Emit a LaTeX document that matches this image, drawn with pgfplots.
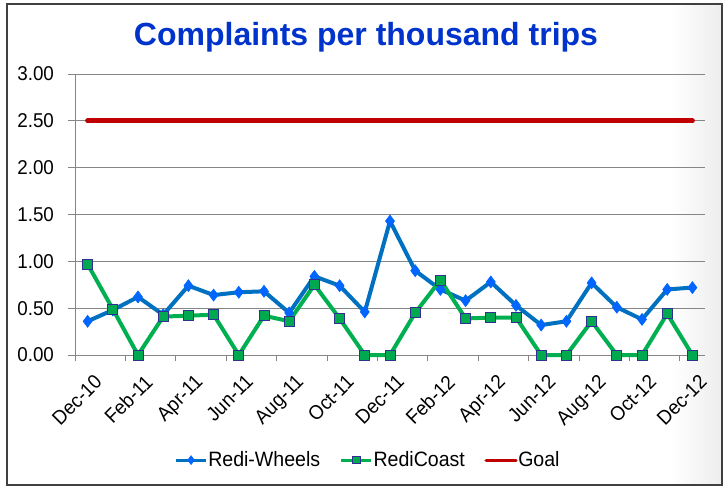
\documentclass[border=0pt]{standalone}
\usepackage{fontspec}
\setmainfont{Liberation Sans}
\newfontfamily\narrowfont[FakeStretch=0.94]{Liberation Sans}
\usepackage{pgfplots}
\pgfplotsset{compat=1.18}
\definecolor{ttl}{RGB}{0,51,204}
\definecolor{bline}{RGB}{0,112,192}
\definecolor{bmark}{RGB}{0,102,255}
\definecolor{gline}{RGB}{0,176,80}
\definecolor{gmark}{RGB}{0,168,80}
\definecolor{gedge}{RGB}{46,49,146}
\definecolor{goal}{RGB}{192,0,0}
\definecolor{gridc}{RGB}{134,134,134}
\begin{document}
\begin{tikzpicture}
\useasboundingbox (0,0) rectangle (363pt,-243.5pt);
\fill[white] (0,0) rectangle (363pt,-243.5pt);
\shade[left color=white, right color=black!7] (335pt,-2pt) rectangle (361pt,-242.5pt);
\draw[black!75, line width=0.8pt] (3.5pt,-2pt) rectangle (361pt,-242.5pt);
\node[anchor=base, text=ttl, font=\bfseries\fontsize{16}{19}\selectfont] at (183pt,-22.5pt) {Complaints per thousand trips};
\begin{axis}[
  at={(37.5pt,-177.5pt)}, anchor=south west,
  scale only axis, width=315pt, height=140.5pt,
  clip=false,
  xmin=-0.5, xmax=24.5, ymin=0, ymax=3,
  axis x line*=bottom, axis y line*=left,
  axis line style={gridc, line width=0.5pt},
  xtick={0,2,...,24},
  xticklabels={Dec-10,Feb-11,Apr-11,Jun-11,Aug-11,Oct-11,Dec-11,Feb-12,Apr-12,Jun-12,Aug-12,Oct-12,Dec-12},
  major x tick style={draw=none},
  minor xtick={-0.5,1.5,...,23.5},
  minor x tick style={gridc, line width=0.5pt},
  minor tick length=3pt,
  ytick={0,0.5,...,3},
  major y tick style={gridc, line width=0.5pt},
  major tick length=3.5pt,
  tick align=outside,
  ymajorgrids,
  grid style={gridc, line width=0.5pt},
  /pgf/number format/.cd, fixed, fixed zerofill, precision=2, assume math mode=true,
  /pgfplots/.cd,
  yticklabel style={font=\narrowfont\fontsize{10}{12}\selectfont, xshift=-3.5pt},
  xticklabel style={font=\narrowfont\fontsize{10}{12}\selectfont, rotate=45, anchor=north east, xshift=1.5pt, yshift=-2.5pt},
  legend columns=3,
  legend style={at={(0.464,-0.374)}, anchor=center, draw=none, fill=none,
    font=\narrowfont\fontsize{10.4}{12}\selectfont, column sep=0pt, inner sep=1pt,
    nodes={inner xsep=0.3pt, inner ysep=1pt},
    /tikz/every even column/.style={column sep=9.5pt}},
  legend cell align=left,
]
\addplot[bline, line width=2pt, mark=diamond*, mark size=3pt, mark options={fill=bmark, draw=bmark, line width=0.3pt},
  legend image code/.code={\draw[mark repeat=2, mark phase=2, line width=1.6pt, mark size=2.2pt] plot coordinates {(0pt,0pt)(7.5pt,0pt)(15pt,0pt)};}]
coordinates {(0,0.36)(1,0.48)(2,0.62)(3,0.43)(4,0.74)(5,0.64)(6,0.67)(7,0.68)(8,0.45)(9,0.84)(10,0.74)(11,0.46)(12,1.43)(13,0.90)(14,0.70)(15,0.58)(16,0.78)(17,0.53)(18,0.32)(19,0.36)(20,0.77)(21,0.51)(22,0.38)(23,0.70)(24,0.72)};
\addlegendentry{Redi-Wheels}
\addplot[gline, line width=2pt, mark=square*, mark size=2.5pt, mark options={fill=gmark, draw=gedge, line width=0.5pt},
  legend image code/.code={\draw[mark repeat=2, mark phase=2, line width=1.6pt, mark size=1.9pt] plot coordinates {(0pt,0pt)(7.5pt,0pt)(15pt,0pt)};}]
coordinates {(0,0.97)(1,0.49)(2,0)(3,0.41)(4,0.42)(5,0.43)(6,0)(7,0.42)(8,0.36)(9,0.75)(10,0.39)(11,0)(12,0)(13,0.45)(14,0.80)(15,0.39)(16,0.40)(17,0.40)(18,0)(19,0)(20,0.36)(21,0)(22,0)(23,0.44)(24,0)};
\addlegendentry{RediCoast}
\addplot[goal, line width=2.5pt, line cap=round, no marks,
  legend image code/.code={\draw[line width=1.6pt] (0pt,0pt) -- (15pt,0pt);}]
coordinates {(0,2.5)(24,2.5)};
\addlegendentry{Goal}
\end{axis}
\end{tikzpicture}
\end{document}
